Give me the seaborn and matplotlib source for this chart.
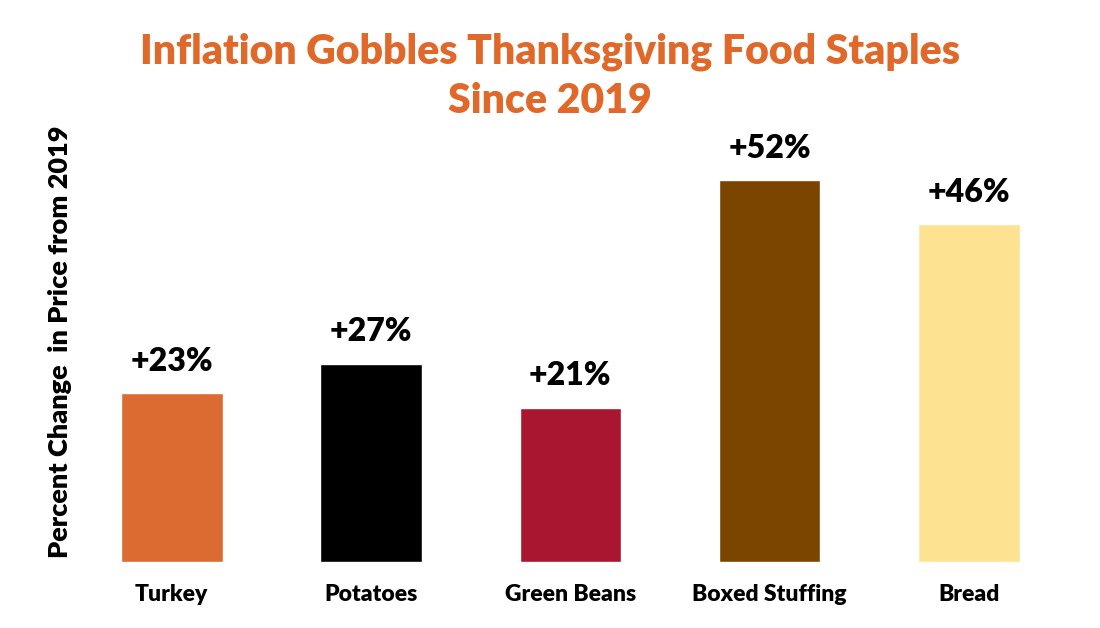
import matplotlib
matplotlib.use("Agg")
import matplotlib.pyplot as plt
import seaborn as sns
import pandas as pd

categories = ["Turkey", "Potatoes", "Green Beans", "Boxed Stuffing", "Bread"]
values = [23, 27, 21, 52, 46]
value_labels = ["+23%", "+27%", "+21%", "+52%", "+46%"]
colors = ["#DC6B32", "#000000", "#A8172F", "#7B4500", "#FDE391"]

title = "Inflation Gobbles Thanksgiving Food Staples\nSince 2019"
ylabel = "Percent Change  in Price from 2019"

sns.set_theme(style="white")
plt.rcParams['font.family'] = ['Lato', 'DejaVu Sans']

df = pd.DataFrame({"category": categories, "value": values})

fig = plt.figure(figsize=(11, 6.28), dpi=100)
ax = fig.add_axes([0.0655, 0.105, 0.906, 0.688])
sns.barplot(data=df, x="category", y="value", hue="category", palette=colors,
            width=0.51, legend=False, ax=ax, saturation=1)
ax.set_xlim(-0.5, 4.5)
ax.set_ylim(0, 58.8)
for s in ax.spines.values():
    s.set_visible(False)
ax.set_yticks([])
ax.tick_params(axis="x", length=0, pad=16)
ax.set_xticks(range(len(categories)))
ax.set_xticklabels(categories, fontsize=16.5, fontweight="heavy", color="black")
ax.set_xlabel("")
ax.set_ylabel(ylabel, fontsize=19.5, fontweight="heavy", color="black")
ax.yaxis.set_label_coords(0.0, 0.51)

for i, (v, lab) in enumerate(zip(values, value_labels)):
    ax.annotate(lab, xy=(i, v), xytext=(0, 23), textcoords="offset points",
                ha="center", va="center", fontsize=23, fontweight="heavy", color="black")

fig.text(0.5, 0.878, title, ha="center", va="center", fontsize=29.5,
         fontweight="heavy", color="#E0692A", linespacing=1.36)

fig.savefig("out.png", dpi=100, facecolor="white")
